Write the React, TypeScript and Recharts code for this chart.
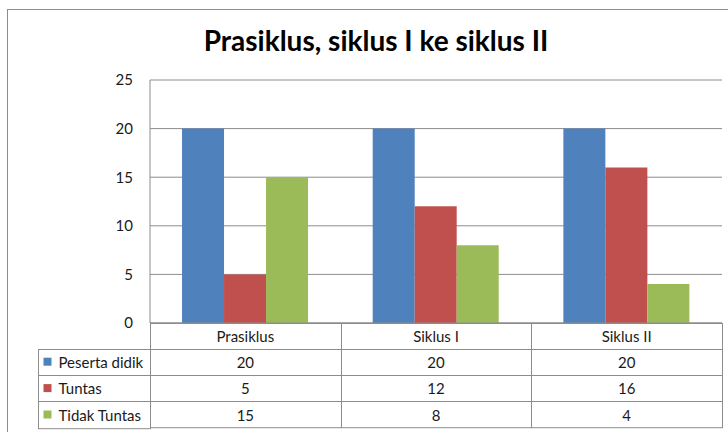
import { BarChart, Bar, XAxis, YAxis, CartesianGrid } from 'recharts';

const categories = ['Prasiklus', 'Siklus I', 'Siklus II'];
const seriesNames = ['Peserta didik', 'Tuntas', 'Tidak Tuntas'];
const pesertaDidik = [20, 20, 20];
const tuntas = [5, 12, 16];
const tidakTuntas = [15, 8, 4];
const yTicks = [0, 5, 10, 15, 20, 25];

const seriesValues = [pesertaDidik, tuntas, tidakTuntas];
const colors = ['#4F81BD', '#C0504D', '#9BBB59'];
const keys = ['peserta', 'tuntas', 'tidak'];

const data = categories.map((name, i) => ({
  name,
  peserta: pesertaDidik[i],
  tuntas: tuntas[i],
  tidak: tidakTuntas[i],
}));

const WIDTH = 728;
const HEIGHT = 432;
const MARGIN = { top: 80, right: 6, bottom: 0, left: 90 };
const Y_AXIS_W = 60;
const X_AXIS_H = 109;
const PLOT_W = WIDTH - MARGIN.left - Y_AXIS_W - MARGIN.right;
const HEADER_H = 25;
const ROW_H = 26.4;
const LEGEND_W = 112;
const LINE = '#8c8c8c';
const FONT = 'Lato, "Open Sans", sans-serif';
const TEXT = '#1a1a1a';

// each x tick draws its column of the data table
function TableTick(props: any) {
  const { x, y, payload, index } = props;
  const bw = PLOT_W / categories.length;
  const left = Math.round(x - bw / 2) + 0.5;
  const top = Math.round(y) + 0.5;
  const right = Math.round(x + bw / 2) + 0.5;
  const w = right - left;
  const rowTop = (r: number) => top + HEADER_H + r * ROW_H;

  return (
    <g fontFamily={FONT} fontSize={15} fill={TEXT}>
      <rect x={left} y={top} width={w} height={HEADER_H + ROW_H * 3} fill="none" stroke={LINE} />
      <text x={x} y={top + HEADER_H / 2} textAnchor="middle" dominantBaseline="central" fill={TEXT}>
        {payload.value}
      </text>
      {seriesValues.map((vals, r) => (
        <g key={r}>
          <line x1={left} x2={right} y1={Math.round(rowTop(r)) + 0.5} y2={Math.round(rowTop(r)) + 0.5} stroke={LINE} />
          <text x={x} y={rowTop(r) + ROW_H / 2} textAnchor="middle" dominantBaseline="central" fill={TEXT}>
            {vals[index]}
          </text>
        </g>
      ))}
      {index === 0 && (
        <g>
          <rect x={left - LEGEND_W} y={Math.round(rowTop(0)) + 0.5} width={LEGEND_W} height={ROW_H * 3} fill="none" stroke={LINE} />
          {seriesNames.map((s, r) => (
            <g key={s}>
              <line x1={left - LEGEND_W} x2={left} y1={Math.round(rowTop(r)) + 0.5} y2={Math.round(rowTop(r)) + 0.5} stroke={LINE} />
              <rect x={left - LEGEND_W + 5} y={rowTop(r) + ROW_H / 2 - 4} width={8} height={8} fill={colors[r]} />
              <text x={left - LEGEND_W + 20} y={rowTop(r) + ROW_H / 2} dominantBaseline="central" fill={TEXT}>
                {s}
              </text>
            </g>
          ))}
        </g>
      )}
    </g>
  );
}

export default function App() {
  return (
    <div style={{ position: 'absolute', left: 0, top: 0, width: WIDTH, height: HEIGHT, overflow: 'hidden', background: '#fff' }}>
      <div style={{ position: 'absolute', left: 7, top: 9, width: WIDTH + 10, height: HEIGHT + 10, border: `1px solid ${LINE}` }} />
      <div
        style={{
          position: 'absolute',
          left: 0,
          width: 752,
          top: 23,
          textAlign: 'center',
          fontFamily: FONT,
          fontWeight: 700,
          fontSize: 28,
          color: '#000',
        }}
      >
        Prasiklus, siklus I ke siklus II
      </div>
      <BarChart width={WIDTH} height={HEIGHT} data={data} margin={MARGIN} barCategoryGap="16.8%" barGap={0}>
        <CartesianGrid vertical={false} stroke={LINE} />
        <XAxis
          dataKey="name"
          height={X_AXIS_H}
          axisLine={{ stroke: LINE }}
          tickLine={false}
          tickSize={0}
          tickMargin={0}
          interval={0}
          tick={<TableTick />}
        />
        <YAxis
          width={Y_AXIS_W}
          domain={[0, 25]}
          ticks={yTicks}
          axisLine={{ stroke: LINE }}
          tickLine={false}
          tickSize={0}
          tickMargin={17}
          tick={{ fill: TEXT, fontSize: 15, fontFamily: FONT }}
        />
        {keys.map((k, i) => (
          <Bar key={k} dataKey={k} name={seriesNames[i]} fill={colors[i]} isAnimationActive={false} />
        ))}
      </BarChart>
    </div>
  );
}
